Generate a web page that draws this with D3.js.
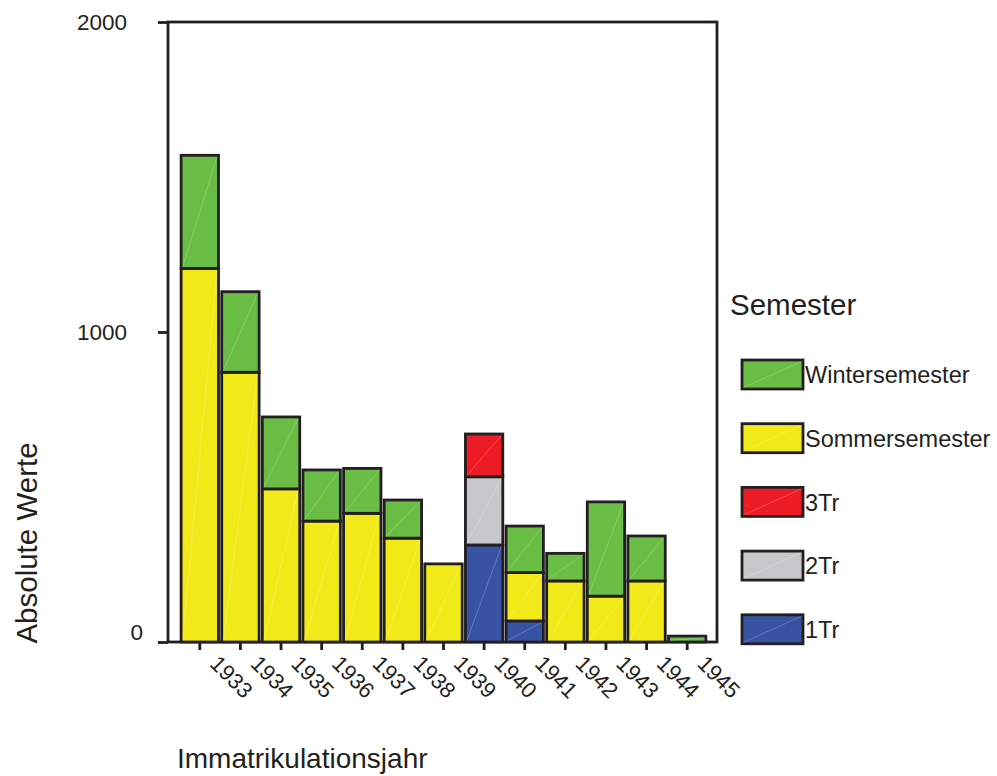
<!DOCTYPE html>
<html lang="de">
<head>
<meta charset="utf-8">
<title>Immatrikulationen nach Semester</title>
<script src="https://d3js.org/d3.v7.min.js"></script>
<style>
  body { margin: 0; background: #fff; }
  text { font-family: "Liberation Sans", Arial, Helvetica, sans-serif; fill: #231f20; }
</style>
</head>
<body>
<svg width="997" height="776"></svg>
<script>
// values
var years  = ["1933","1934","1935","1936","1937","1938","1939","1940","1941","1942","1943","1944","1945"];
var winter = [365, 260, 232, 165, 145, 123, 0, 0, 150, 89, 304, 145, 19];
var summer = [1205, 870, 494, 390, 415, 335, 252, 0, 156, 197, 148, 197, 0];
var tri3   = [0, 0, 0, 0, 0, 0, 0, 138, 0, 0, 0, 0, 0];
var tri2   = [0, 0, 0, 0, 0, 0, 0, 220, 0, 0, 0, 0, 0];
var tri1   = [0, 0, 0, 0, 0, 0, 0, 313, 68, 0, 0, 0, 0];
var keys   = ["1Tr", "2Tr", "3Tr", "Sommersemester", "Wintersemester"];
var colors = ["#3953a4", "#c7c8ca", "#ed1c24", "#f2ea18", "#6abd45"];
var yTicks = [0, 1000, 2000];

var svg = d3.select("svg");
var ink = "#231f20";
var sw = 2.8;

var rows = years.map(function(y, i) {
  return { year: y, "1Tr": tri1[i], "2Tr": tri2[i], "3Tr": tri3[i],
           "Sommersemester": summer[i], "Wintersemester": winter[i] };
});

var plotL = 168, plotR = 717, plotT = 22, plotB = 642;

var x = d3.scaleBand()
    .domain(years)
    .range([179.5, 707.5])
    .paddingInner(0.08)
    .paddingOuter(0.04);

var y = d3.scaleLinear()
    .domain([0, 2000])
    .range([plotB, plotT]);

var color = d3.scaleOrdinal().domain(keys).range(colors);

var series = d3.stack().keys(keys)(rows);

// frame
svg.append("rect")
    .attr("x", plotL).attr("y", plotT)
    .attr("width", plotR - plotL).attr("height", plotB - plotT)
    .attr("fill", "none")
    .attr("stroke", ink)
    .attr("stroke-width", sw);

// y axis
var ya = svg.append("g")
    .attr("transform", "translate(" + plotL + ",0)")
    .call(d3.axisLeft(y).tickValues(yTicks).tickSize(10).tickFormat(d3.format("d")));
ya.select(".domain").remove();
ya.selectAll(".tick line").attr("stroke", ink).attr("stroke-width", sw);
ya.selectAll(".tick text")
    .attr("font-size", 22.5)
    .attr("fill", ink)
    .attr("x", function(d) { return d === 0 ? -25 : -41; })
    .attr("dy", function(d) { return d === 0 ? "-0.1em" : "0.35em"; });

// x axis
var xa = svg.append("g")
    .attr("transform", "translate(0," + plotB + ")")
    .call(d3.axisBottom(x).tickSize(8));
xa.select(".domain").remove();
xa.selectAll(".tick line").attr("stroke", ink).attr("stroke-width", sw);
xa.selectAll(".tick text")
    .attr("font-size", 22)
    .attr("fill", ink)
    .attr("text-anchor", "start")
    .attr("y", 0)
    .attr("dy", 0)
    .attr("transform", "translate(9,23) rotate(45)");

// bars
var segs = [];
series.forEach(function(s) {
  s.forEach(function(d) {
    if (d[1] - d[0] > 0) segs.push({ key: s.key, year: d.data.year, y0: d[0], y1: d[1] });
  });
});

var bars = svg.append("g").selectAll("g")
  .data(segs)
  .enter().append("g");

bars.append("rect")
    .attr("x", function(d) { return x(d.year); })
    .attr("y", function(d) { return y(d.y1); })
    .attr("width", x.bandwidth())
    .attr("height", function(d) { return y(d.y0) - y(d.y1); })
    .attr("fill", function(d) { return color(d.key); })
    .attr("stroke", ink)
    .attr("stroke-width", sw);

// faint diagonal sheen seen in the original rendering
bars.append("line")
    .attr("x1", function(d) { return x(d.year) + 1.5; })
    .attr("y1", function(d) { return y(d.y0) - 1.5; })
    .attr("x2", function(d) { return x(d.year) + x.bandwidth() - 1.5; })
    .attr("y2", function(d) { return y(d.y1) + 1.5; })
    .attr("stroke", "#fff")
    .attr("stroke-opacity", 0.3)
    .attr("stroke-width", 0.7);

// axis titles
svg.append("text")
    .attr("transform", "translate(37,543) rotate(-90)")
    .attr("text-anchor", "middle")
    .attr("font-size", 29.5)
    .text("Absolute Werte");

svg.append("text")
    .attr("x", 177)
    .attr("y", 768)
    .attr("font-size", 28)
    .text("Immatrikulationsjahr");

// legend
svg.append("text")
    .attr("x", 730)
    .attr("y", 315)
    .attr("font-size", 29.5)
    .text("Semester");

var legendKeys = keys.slice().reverse();
var lg = svg.append("g").selectAll("g")
  .data(legendKeys)
  .enter().append("g")
    .attr("transform", function(d, i) { return "translate(742," + (360 + i * 63.7) + ")"; });

lg.append("rect")
    .attr("width", 61)
    .attr("height", 29)
    .attr("fill", function(d) { return color(d); })
    .attr("stroke", ink)
    .attr("stroke-width", sw);

lg.append("line")
    .attr("x1", 1.5).attr("y1", 27.5).attr("x2", 59.5).attr("y2", 1.5)
    .attr("stroke", "#fff")
    .attr("stroke-opacity", 0.3)
    .attr("stroke-width", 0.7);

lg.append("text")
    .attr("x", 63)
    .attr("y", 15)
    .attr("dy", "0.35em")
    .attr("font-size", 23.5)
    .text(function(d) { return d; });
</script>
</body>
</html>
